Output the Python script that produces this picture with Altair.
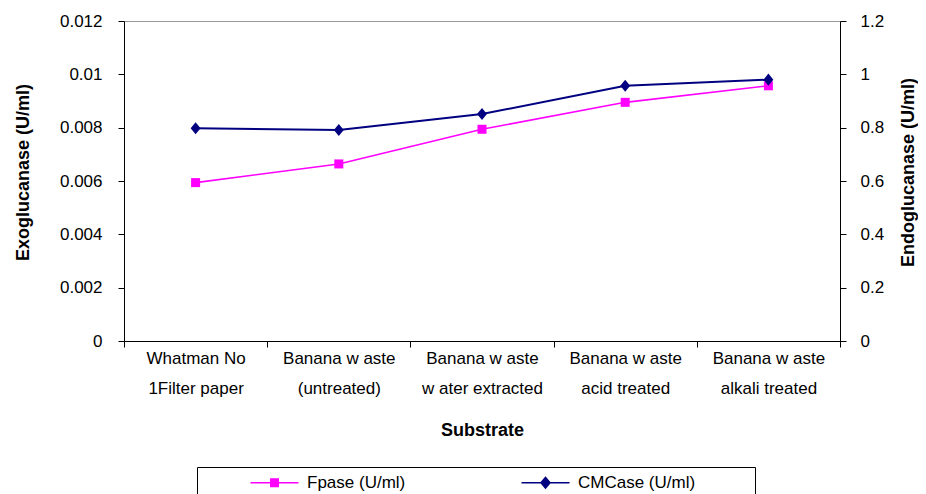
import altair as alt
import pandas as pd

categories = [
    "Whatman No|1Filter paper",
    "Banana w aste|(untreated)",
    "Banana w aste|w ater extracted",
    "Banana w aste|acid treated",
    "Banana w aste|alkali treated",
]
fpase = [0.00594, 0.00664, 0.00794, 0.00895, 0.00957]
cmcase = [0.798, 0.791, 0.851, 0.957, 0.980]
series_names = ["Fpase (U/ml)", "CMCase (U/ml)"]
series_colors = ["#FF00FF", "#000080"]
left_ticks = [0, 0.002, 0.004, 0.006, 0.008, 0.01, 0.012]
right_ticks = [0, 0.2, 0.4, 0.6, 0.8, 1.0, 1.2]

FONT = "Liberation Sans"

df = pd.DataFrame({"Substrate": categories, "Fpase": fpase, "CMCase": cmcase})
leg_df = pd.DataFrame({"series": series_names})

# legend glyphs: line + marker as one filled path (unit = symbol radius)
leg_square = "M-4,-0.13H4V0.13H-4Z M-0.75,-0.75H0.75V0.75H-0.75Z"
leg_diamond = "M-4,-0.13H4V0.13H-4Z M0,-1.08L0.92,0L0,1.08L-0.92,0Z"
plot_diamond = "M0,-1.1L0.9,0L0,1.1L-0.9,0Z"

suffix = "\u00a0" * 11 + "\u200b"
legend = alt.Legend(
    title=" ", titleOrient="left", titlePadding=44, titleFontSize=1,
    orient="none", legendX=73, legendY=446, direction="horizontal",
    strokeColor="black", padding=7,
    symbolSize=144, symbolStrokeWidth=0, symbolOffset=18, labelOffset=24,
    columnPadding=113, labelFontSize=17, labelFont=FONT, labelColor="black",
    labelLimit=400,
    labelExpr="datum.label == 'CMCase (U/ml)' ? datum.label + '" + suffix + "' : datum.label",
)

x_enc = alt.X(
    "Substrate:N", sort=categories, bandPosition=0.5,
    scale=alt.Scale(type="band", paddingInner=0, paddingOuter=0),
    axis=alt.Axis(
        title="Substrate", labelExpr="split(datum.label, '|')", labelLineHeight=30,
        labelAngle=0, tickBand="extent", tickSize=6, labelPadding=3,
        titlePadding=25, titleFontSize=18, labelFontSize=17,
    ),
)

base = alt.Chart(df)

fp_line = base.mark_line(color=series_colors[0], strokeWidth=1.6).encode(
    x=x_enc,
    y=alt.Y(
        "Fpase:Q",
        scale=alt.Scale(domain=[0, 0.012], nice=False, zero=True),
        axis=alt.Axis(
            title="Exoglucanase (U/ml)", values=left_ticks, format="~g", orient="left",
            tickSize=6, labelPadding=16, titlePadding=27, titleFontSize=18, labelFontSize=17,
            titleY=151,
        ),
    ),
)
fp_pts = base.mark_point(shape="square", filled=True, size=81, color=series_colors[0], opacity=1).encode(
    x=x_enc, y=alt.Y("Fpase:Q")
)

legend_layer = alt.Chart(leg_df).mark_point(filled=True, opacity=1).encode(
    color=alt.Color("series:N", scale=alt.Scale(domain=series_names, range=series_colors), legend=legend),
    shape=alt.Shape("series:N", scale=alt.Scale(domain=series_names, range=[leg_square, leg_diamond]), legend=legend),
).transform_filter("false")

cm_line = base.mark_line(color=series_colors[1], strokeWidth=2).encode(
    x=x_enc,
    y=alt.Y(
        "CMCase:Q",
        scale=alt.Scale(domain=[0, 1.2], nice=False, zero=True),
        axis=alt.Axis(
            title="Endoglucanase (U/ml)", values=right_ticks, format="~g", orient="right",
            tickSize=6, labelPadding=14, titlePadding=16, titleFontSize=18, labelFontSize=17,
            titleAngle=270, titleBaseline="top", titleY=151,
        ),
    ),
)
cm_pts = base.mark_point(shape=plot_diamond, filled=True, size=121, color=series_colors[1], opacity=1).encode(
    x=x_enc, y=alt.Y("CMCase:Q")
)

left = alt.layer(fp_line, fp_pts, legend_layer)
right = alt.layer(cm_line, cm_pts)

chart = (
    alt.layer(left, right)
    .resolve_scale(y="independent")
    .properties(
        width=716, height=320,
        autosize=alt.AutoSizeParams(type="none"),
        padding={"left": 116, "top": 13, "right": 78, "bottom": 160},
    )
    .configure_view(stroke="#999999", strokeWidth=1)
    .configure_axis(
        labelFont=FONT, titleFont=FONT, labelColor="black", titleColor="black",
        domainColor="black", tickColor="black", grid=False, titleFontWeight="bold",
        domainWidth=1, tickWidth=1,
    )
)

chart.save("out.html", embed_options={"renderer": "svg", "actions": False})
